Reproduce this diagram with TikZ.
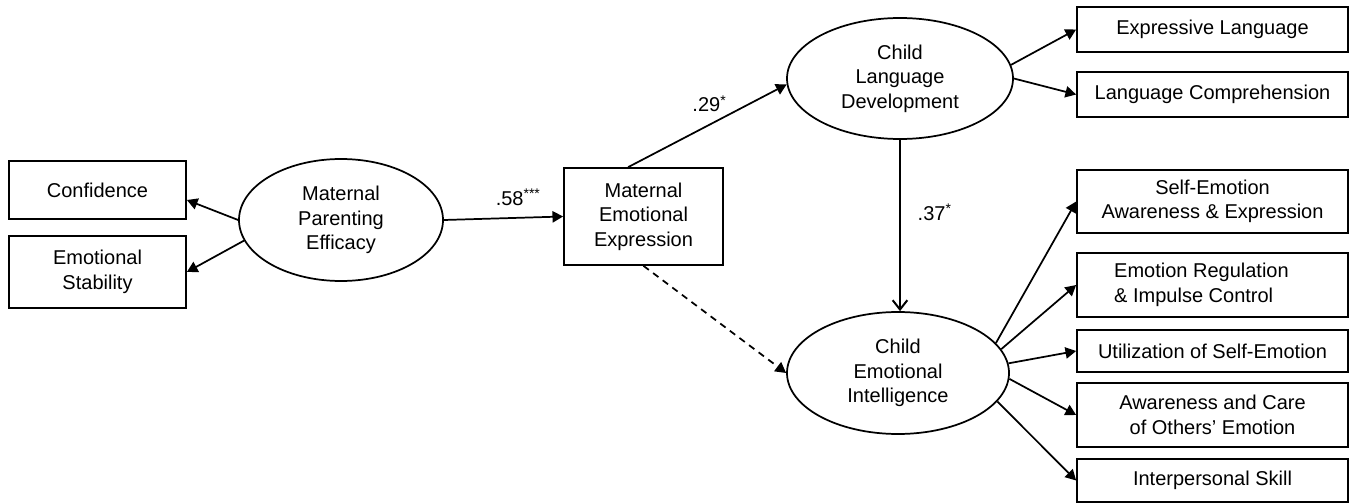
\documentclass[tikz,border=0pt]{standalone}
\usepackage{fontspec}
\setmainfont{Liberation Sans}
\usetikzlibrary{arrows.meta,shapes.geometric}
\begin{document}
\begin{tikzpicture}[x=0.75pt,y=-0.75pt,
  every node/.style={font=\fontsize{15}{18.4}\selectfont, inner sep=0pt, align=center},
  sz/.style 2 args={minimum width=#1*0.75pt, minimum height=#2*0.75pt},
  box/.style={draw, line width=1.3pt, rectangle},
  lat/.style={draw, line width=1.3pt, ellipse},
  arr/.style={line width=1.3pt, -{Triangle[length=8pt,width=8.5pt]}},
  dasharr/.style={arr, dash pattern=on 5pt off 4pt},
  openarr/.style={line width=1.3pt, -{Straight Barb[length=7pt,width=11pt,line width=1.5pt]}},
  coef/.style={font=\fontsize{15}{18}\selectfont}
]
\useasboundingbox (0,0) rectangle (1354,503);

% left indicators
\node[box, sz={177}{58}] (conf) at (97.5,190) {Confidence};
\node[box, sz={177}{72}] (es) at (97.5,272) {Emotional\\Stability};
\node[lat, sz={204}{122}] (mpe) at (341,220) {Maternal\\Parenting\\Efficacy};

% mediator
\node[box, sz={159}{97}] (mee) at (643.5,216.5) {Maternal\\Emotional\\Expression};

% latent child variables
\node[lat, sz={226}{121}] (cld) at (900,78.5) {Child\\Language\\Development};
\node[lat, sz={222}{122}] (cei) at (898,373) {Child\\Emotional\\Intelligence};

% right indicators
\node[box, sz={271}{45}] (expr) at (1212.5,29.5) {Expressive Language};
\node[box, sz={271}{45}] (lcomp) at (1212.5,94.5) {Language Comprehension};
\node[box, sz={271}{63}] (se) at (1212.5,201.5) {Self-Emotion\\Awareness \& Expression};
\node[box, sz={271}{64}, align=left] (er) at (1212.5,285) {Emotion Regulation\hspace*{16.5pt}\\\& Impulse Control};
\node[box, sz={271}{42}] (ut) at (1212.5,351) {Utilization of Self-Emotion};
\node[box, sz={271}{64}] (ac) at (1212.5,415) {Awareness and Care\\of Others’ Emotion};
\node[box, sz={271}{43}] (ip) at (1212.5,480.5) {Interpersonal Skill};

% connectors
\draw[arr] (mpe.west) -- ([yshift=-7.5pt]conf.east);
\draw[arr] (mpe.192) -- (es.east);
\draw[arr] (mpe.east) -- (mee.west) node[coef, midway, xshift=11pt, yshift=16pt] {.58\textsuperscript{***}};
\draw[arr] ([xshift=-11.5pt]mee.north) -- (cld.183) node[coef, midway, xshift=1.5pt, yshift=16.5pt] {.29\textsuperscript{*}};
\draw[dasharr] (mee.south) -- (cei.west);
\draw[openarr] (cld.south) -- (cld.south |- cei.north) node[coef, pos=0.42, xshift=26pt] {.37\textsuperscript{*}};

\draw[arr] (cld.7) -- (expr.west);
\draw[arr] (cld.east) -- (lcomp.west);

\draw[arr] (cei.17) -- (se.west);
\draw[arr] (cei.13) -- (er.west);
\draw[arr] (cei.5) -- (ut.west);
\draw[arr] (cei.-3) -- (ac.west);
\draw[arr] (cei.-16) -- (ip.west);
\end{tikzpicture}
\end{document}
